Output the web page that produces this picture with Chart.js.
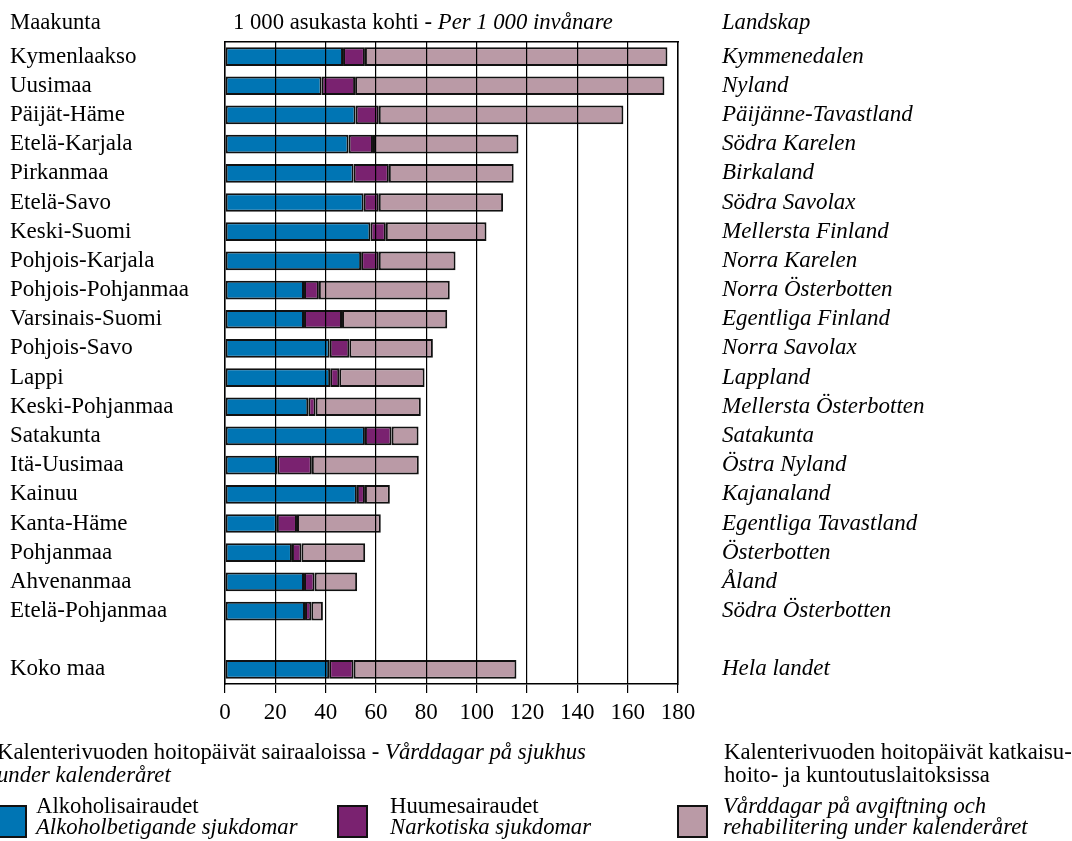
<!DOCTYPE html>
<html>
<head>
<meta charset="utf-8">
<script src="https://cdn.jsdelivr.net/npm/chart.js@4.4.1/dist/chart.umd.min.js"></script>
<style>
  html, body { margin: 0; padding: 0; background: #fff; }
  body { width: 1072px; height: 841px; position: relative; overflow: hidden;
         font-family: 'Liberation Serif', 'Times New Roman', serif; font-size: 22.7px; color: #000; }
  #c { position: absolute; left: 0; top: 0; }
  .t { position: absolute; white-space: nowrap; line-height: 23px; }
  .l2 { line-height: 21px; }
  .box { position: absolute; width: 27px; height: 29px; border: 2px solid #111; }
</style>
</head>
<body>
<canvas id="c" width="1072" height="841"></canvas>

<div class="t" style="left:10px; top:10px;">Maakunta</div>
<div class="t" style="left:233px; top:10px;">1 000 asukasta kohti - <i>Per 1 000 invånare</i></div>
<div class="t" style="left:722px; top:10px;"><i>Landskap</i></div>

<div class="t" style="left:-3px; top:740px;">Kalenterivuoden hoitopäivät sairaaloissa - <i>Vårddagar på sjukhus</i><br><i>under kalenderåret</i></div>
<div class="t" style="left:724px; top:740px;">Kalenterivuoden hoitopäivät katkaisu-<br>hoito- ja kuntoutuslaitoksissa</div>

<div class="box" id="b1" style="left:-4px; top:805px;"></div>
<div class="t l2" style="left:36px; top:795px;">Alkoholisairaudet<br><i>Alkoholbetigande sjukdomar</i></div>
<div class="box" id="b2" style="left:337px; top:805px;"></div>
<div class="t l2" style="left:390px; top:795px;">Huumesairaudet<br><i>Narkotiska sjukdomar</i></div>
<div class="box" id="b3" style="left:677px; top:805px;"></div>
<div class="t l2" style="left:723px; top:795px;"><i>Vårddagar på avgiftning och<br>rehabilitering under kalenderåret</i></div>

<script>
// ---- data ----
const regionsFi = ['Kymenlaakso','Uusimaa','Päijät-Häme','Etelä-Karjala','Pirkanmaa','Etelä-Savo','Keski-Suomi','Pohjois-Karjala','Pohjois-Pohjanmaa','Varsinais-Suomi','Pohjois-Savo','Lappi','Keski-Pohjanmaa','Satakunta','Itä-Uusimaa','Kainuu','Kanta-Häme','Pohjanmaa','Ahvenanmaa','Etelä-Pohjanmaa','','Koko maa'];
const regionsSv = ['Kymmenedalen','Nyland','Päijänne-Tavastland','Södra Karelen','Birkaland','Södra Savolax','Mellersta Finland','Norra Karelen','Norra Österbotten','Egentliga Finland','Norra Savolax','Lappland','Mellersta Österbotten','Satakunta','Östra Nyland','Kajanaland','Egentliga Tavastland','Österbotten','Åland','Södra Österbotten','','Hela landet'];
const alcohol   = [46.9, 38.4, 51.9, 49.1, 51.1, 55.1, 57.8, 54.1, 31.4, 31.4, 41.6, 41.8, 33.1, 55.6, 20.8, 52.4, 20.6, 26.6, 31.4, 31.8, null, 41.4];
const narcotics = [8.7, 13.3, 9.2, 9.7, 14.0, 6.0, 6.1, 7.0, 5.9, 15.1, 7.8, 3.6, 2.9, 10.6, 13.7, 3.2, 8.0, 3.8, 4.2, 2.5, null, 9.7];
const rehab     = [120.2, 122.9, 97.2, 57.8, 49.6, 49.4, 40.0, 30.5, 52.0, 41.8, 33.2, 33.9, 41.8, 10.7, 42.5, 9.9, 33.3, 25.3, 16.9, 4.6, null, 64.7];
const xTicks    = [0, 20, 40, 60, 80, 100, 120, 140, 160, 180];
const seriesNames = ['Alkoholisairaudet', 'Huumesairaudet', 'Vårddagar på avgiftning och rehabilitering'];

// ---- styles ----
const BLUE = 'rgb(0,117,180)', PURPLE = 'rgb(122,34,112)', PINK = 'rgb(186,154,166)';
document.getElementById('b1').style.background = BLUE;
document.getElementById('b2').style.background = PURPLE;
document.getElementById('b3').style.background = PINK;

const FONT = 'Liberation Serif';
const FSIZE = 23;
const barStyle = { borderColor: '#111', borderWidth: 2, borderSkipped: false, barPercentage: 0.64, categoryPercentage: 1.0 };

new Chart(document.getElementById('c'), {
  type: 'bar',
  data: {
    labels: regionsFi,
    datasets: [
      Object.assign({ label: seriesNames[0], data: alcohol,   backgroundColor: BLUE },   barStyle),
      Object.assign({ label: seriesNames[1], data: narcotics, backgroundColor: PURPLE }, barStyle),
      Object.assign({ label: seriesNames[2], data: rehab,     backgroundColor: PINK },   barStyle)
    ]
  },
  options: {
    indexAxis: 'y',
    responsive: false,
    animation: false,
    devicePixelRatio: 1,
    layout: { padding: { left: 10, top: 42, right: 0, bottom: 117 } },
    plugins: { legend: { display: false }, tooltip: { enabled: false }, title: { display: false } },
    scales: {
      x: {
        type: 'linear', position: 'bottom', stacked: true, min: 0, max: 180,
        afterBuildTicks: (s) => { s.ticks = xTicks.map(v => ({ value: v })); },
        ticks: { color: '#000', font: { family: FONT, size: FSIZE }, padding: 6, maxRotation: 0, autoSkip: false },
        grid: { color: '#000', lineWidth: 1.2, tickLength: 9, z: 1, drawOnChartArea: true },
        border: { display: true, color: '#000', width: 1.5, z: 1 },
        afterFit: (s) => { s.height = 40; }
      },
      xTop: {
        type: 'linear', position: 'top', min: 0, max: 180,
        ticks: { display: false },
        grid: { display: false, drawTicks: false },
        border: { display: true, color: '#000', width: 1.5, z: 1 },
        afterFit: (s) => { s.height = 0; }
      },
      y: {
        type: 'category', position: 'left', stacked: true,
        ticks: { color: '#000', font: { family: FONT, size: FSIZE }, crossAlign: 'far', autoSkip: false, padding: 0 },
        grid: { display: false, drawTicks: true, tickLength: 10 },
        border: { display: true, color: '#000', width: 1.5, z: 1 },
        afterFit: (s) => { s.width = 215; }
      },
      yRight: {
        type: 'category', position: 'right', labels: regionsSv,
        ticks: { color: '#000', font: { family: FONT, size: FSIZE, style: 'italic' }, crossAlign: 'near', autoSkip: false, padding: 0 },
        grid: { display: false, drawTicks: true, tickLength: 44 },
        border: { display: true, color: '#000', width: 1.5, z: 1 },
        afterFit: (s) => { s.width = 394; }
      }
    }
  }
});
</script>
</body>
</html>
